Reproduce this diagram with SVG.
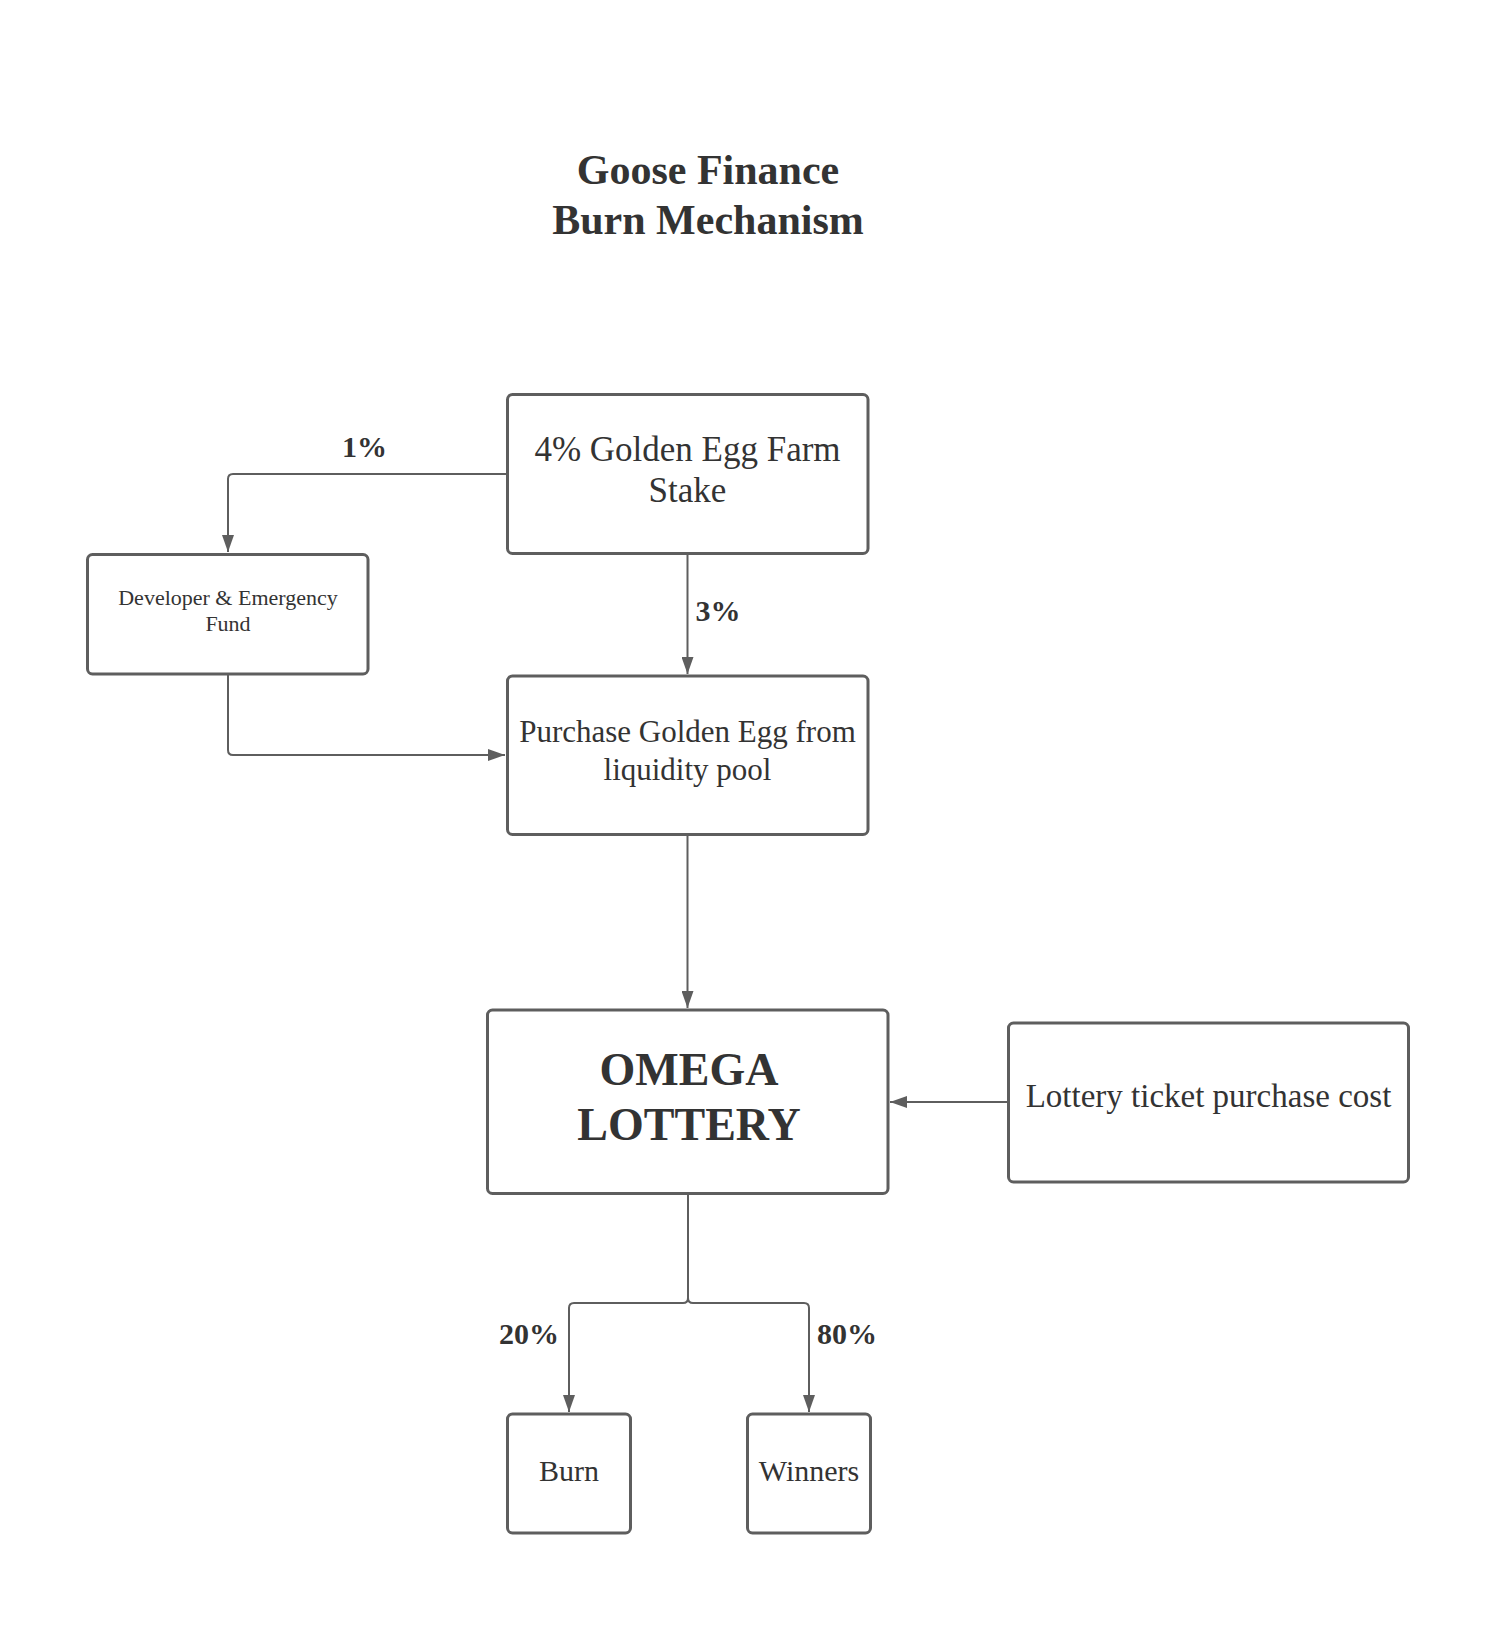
<svg xmlns="http://www.w3.org/2000/svg" width="1496" height="1628" viewBox="0 0 1496 1628">
<style>
.box{fill:#ffffff;stroke:#5e5e5e;stroke-width:3}
.t{font-family:"Liberation Serif","Times New Roman",serif;fill:#333333;text-anchor:middle}
.b{font-weight:bold}
.c{fill:none;stroke:#5e5e5e;stroke-width:2}
</style>
<defs>
<marker id="arr" markerUnits="userSpaceOnUse" markerWidth="17" markerHeight="12" refX="17" refY="6" orient="auto">
<path d="M0,0 L17,6 L0,12 z" fill="#5e5e5e"/>
</marker>
</defs>
<rect width="1496" height="1628" fill="#ffffff"/>
<g id="title">
<text class="t b" x="708" y="184" font-size="42">Goose Finance</text>
<text class="t b" x="708" y="234" font-size="42">Burn Mechanism</text>
</g>
<g id="connectors">
<path class="c" d="M507,474 H233 Q228,474 228,479 V552" marker-end="url(#arr)"/>
<path class="c" d="M687.5,555 V674" marker-end="url(#arr)"/>
<path class="c" d="M228,675 V750 Q228,755 233,755 H505" marker-end="url(#arr)"/>
<path class="c" d="M687.5,836 V1008" marker-end="url(#arr)"/>
<path class="c" d="M1007,1102 H890" marker-end="url(#arr)"/>
<path class="c" d="M688,1195 V1298 Q688,1303 683,1303 H574 Q569,1303 569,1308 V1412" marker-end="url(#arr)"/>
<path class="c" d="M688,1298 Q688,1303 693,1303 H804 Q809,1303 809,1308 V1412" marker-end="url(#arr)"/>
<text class="t b" x="364.5" y="457" font-size="30">1%</text>
<text class="t b" x="718" y="620.5" font-size="30">3%</text>
<text class="t b" x="529" y="1344" font-size="30">20%</text>
<text class="t b" x="847" y="1344" font-size="30">80%</text>
</g>
<g id="farm-stake">
<rect class="box" x="507.5" y="394.5" width="360.5" height="159" rx="5"/>
<text class="t" x="687.5" y="461" font-size="35">4% Golden Egg Farm</text>
<text class="t" x="687.5" y="502" font-size="35">Stake</text>
</g>
<g id="dev-fund">
<rect class="box" x="87.5" y="554.5" width="280.5" height="119.5" rx="5"/>
<text class="t" x="228" y="605" font-size="22">Developer &amp; Emergency</text>
<text class="t" x="228" y="631" font-size="22">Fund</text>
</g>
<g id="purchase">
<rect class="box" x="507.5" y="676" width="360.5" height="158.5" rx="5"/>
<text class="t" x="687.5" y="742" font-size="31">Purchase Golden Egg from</text>
<text class="t" x="687.5" y="780" font-size="31">liquidity pool</text>
</g>
<g id="omega-lottery">
<rect class="box" x="487.5" y="1010" width="400.5" height="183.5" rx="5"/>
<text class="t b" x="689" y="1085" font-size="46">OMEGA</text>
<text class="t b" x="689" y="1140" font-size="46">LOTTERY</text>
</g>
<g id="ticket-cost">
<rect class="box" x="1008.5" y="1023" width="400" height="159" rx="5"/>
<text class="t" x="1208.5" y="1107" font-size="33">Lottery ticket purchase cost</text>
</g>
<g id="burn">
<rect class="box" x="507.5" y="1414" width="123" height="119" rx="5"/>
<text class="t" x="569" y="1481" font-size="30">Burn</text>
</g>
<g id="winners">
<rect class="box" x="747.5" y="1414" width="123" height="119" rx="5"/>
<text class="t" x="809" y="1481" font-size="30">Winners</text>
</g>
</svg>
